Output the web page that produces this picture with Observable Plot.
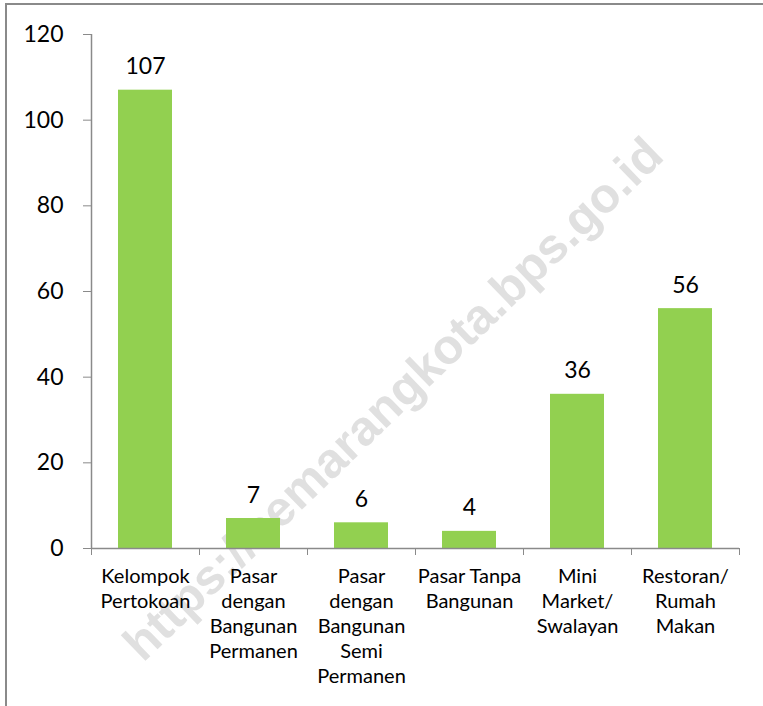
<!DOCTYPE html>
<html><head><meta charset="utf-8">
<script src="https://cdn.jsdelivr.net/npm/d3@7"></script>
<script src="https://cdn.jsdelivr.net/npm/@observablehq/plot@0.6"></script>
<style>
body{margin:0;background:#fff;overflow:hidden}
#wrap{position:relative;width:763px;height:706px;overflow:hidden}
#border{position:absolute;left:5px;top:3px;width:900px;height:900px;border-top:2px solid #8a8a8a;border-left:2px solid #8a8a8a;pointer-events:none}
#wrap svg{position:absolute;left:0;top:0}
</style></head><body><div id="wrap"><div id="border"></div></div>
<script>
const categories = ["Kelompok\nPertokoan","Pasar\ndengan\nBangunan\nPermanen","Pasar\ndengan\nBangunan\nSemi\nPermanen","Pasar Tanpa\nBangunan","Mini\nMarket/\nSwalayan","Restoran/\nRumah\nMakan"];
const values = [107, 7, 6, 4, 36, 56];
const yTicks = [0, 20, 40, 60, 80, 100, 120];
const watermark = "https://semarangkota.bps.go.id";

const data = categories.map((c, i) => ({c, v: values[i], i}));
const boundaries = d3.range(categories.length + 1);

const plot = Plot.plot({
  width: 763, height: 706,
  marginLeft: 91, marginRight: 24, marginTop: 34, marginBottom: 158,
  x: {domain: [0, categories.length], axis: null},
  y: {domain: [0, 120], axis: null},
  style: {fontFamily: "Lato, sans-serif", fontSize: "20px", color: "#000", background: "transparent"},
  marks: [
    Plot.text([watermark], {frameAnchor: "middle", dx: -22, dy: 108, rotate: -44, fontSize: 49, fontWeight: "bold", fill: "#e0e0e0", fontFamily: "Liberation Sans, Arial, sans-serif"}),
    Plot.rectY(data, {x1: d => d.i + 0.25, x2: d => d.i + 0.75, y: "v", fill: "#92D050"}),
    Plot.text(data, {x: d => d.i + 0.5, y: "v", text: d => String(d.v), dy: -16, lineAnchor: "bottom", fontSize: 23, fill: "#000"}),
    Plot.text(data, {x: d => d.i + 0.5, text: "c", frameAnchor: "bottom", lineAnchor: "top", dy: 17, lineHeight: 1.25, fontSize: 20, fill: "#000"}),
    Plot.axisY({ticks: yTicks, tickSize: 8, tickPadding: 20, stroke: "#8a8a8a", fill: "#000", fontSize: 23, label: null}),
    Plot.axisX({ticks: boundaries, tickSize: 7, tickFormat: () => "", stroke: "#8a8a8a", label: null}),
    Plot.ruleX([0], {stroke: "#8a8a8a", strokeWidth: 1.5}),
    Plot.ruleY([0], {stroke: "#8a8a8a", strokeWidth: 1.5})
  ]
});
document.getElementById("wrap").appendChild(plot);
</script>
</body></html>
